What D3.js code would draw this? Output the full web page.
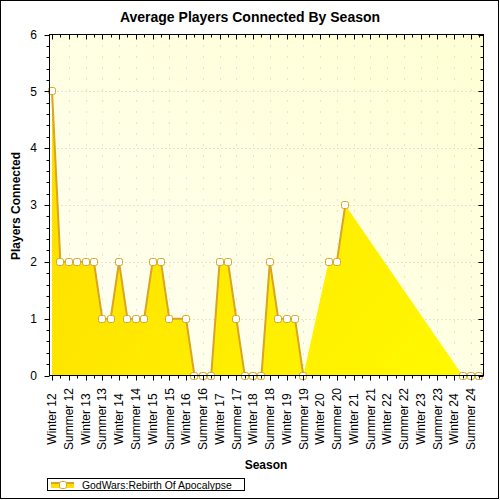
<!DOCTYPE html>
<html>
<head>
<meta charset="utf-8">
<script src="https://cdn.jsdelivr.net/npm/d3@7"></script>
<style>
  html, body { margin: 0; padding: 0; background: #fff; }
  svg { display: block; }
  text { font-family: "Liberation Sans", Arial, sans-serif; fill: #000; }
</style>
</head>
<body>
<svg id="chart" width="500" height="500"></svg>
<script>
// ---- data ----
const title = "Average Players Connected By Season";
const xTitle = "Season";
const yTitle = "Players Connected";
const seriesName = "GodWars:Rebirth Of Apocalypse";
// season tick labels (one every two quarter steps)
const seasonLabels = ["Winter 12","Summer 12","Winter 13","Summer 13","Winter 14","Summer 14",
  "Winter 15","Summer 15","Winter 16","Summer 16","Winter 17","Summer 17","Winter 18","Summer 18",
  "Winter 19","Summer 19","Winter 20","Summer 20","Winter 21","Summer 21","Winter 22","Summer 22",
  "Winter 23","Summer 23","Winter 24","Summer 24"];
// sample position in quarter steps from Winter 12
const periods = [0,1,2,3,4,5,6,7,8,9,10,11,12,13,14,16,17,18,19,20,21,22,23,24,25,26,27,28,29,30,31,32,33,34,35,
  36,37,38,39,40,41,42,43,44,45,46,47,48,49,50,51];
const players = [5,2,2,2,2,2,1,1,2,1,1,1,2,2,1,1,0,0,0,2,2,1,0,0,0,2,1,1,1,0,null,null,2,2,3,
  null,null,null,null,null,null,null,null,null,null,null,null,null,0,0,0];
const yTicks = [0,1,2,3,4,5,6];

const data = periods.map((p, i) => ({p, v: players[i]}));
const defined = data.filter(d => d.v != null);

const svg = d3.select("#chart");
const L = 49.5, R = 483.5, T = 34.5, B = 375.5;
const x = d3.scaleLinear().domain([-0.3, 51.5]).range([L, R]);
const y = d3.scaleLinear().domain([0, 6]).range([B, T]);

const defs = svg.append("defs");
const bg = defs.append("linearGradient").attr("id", "bg")
  .attr("x1", 0).attr("y1", 1).attr("x2", 1).attr("y2", 0);
bg.append("stop").attr("offset", 0).attr("stop-color", "#FFFFF2");
bg.append("stop").attr("offset", 1).attr("stop-color", "#FFFFD4");
const ag = defs.append("linearGradient").attr("id", "ag")
  .attr("gradientUnits", "userSpaceOnUse")
  .attr("x1", L).attr("y1", T).attr("x2", R).attr("y2", B);
ag.append("stop").attr("offset", 0).attr("stop-color", "#FFDA00");
ag.append("stop").attr("offset", 1).attr("stop-color", "#FFFA00");

// outer border
svg.append("rect").attr("x", 0.5).attr("y", 0.5).attr("width", 498).attr("height", 498)
  .attr("fill", "#fff").attr("stroke", "#000");

// plot background
svg.append("rect").attr("x", L).attr("y", T).attr("width", R - L).attr("height", B - T)
  .attr("fill", "url(#bg)");

// gridlines
const majorX = d3.range(0, 51, 2);
const minorX = d3.range(1, 52, 2);
svg.append("g").selectAll("line").data(yTicks.slice(1, -1)).join("line")
  .attr("x1", L).attr("x2", R)
  .attr("y1", d => Math.round(y(d)) + 0.5).attr("y2", d => Math.round(y(d)) + 0.5)
  .attr("stroke", "#c8c8c8").attr("stroke-dasharray", "1,3");
svg.append("g").selectAll("line").data(majorX.slice(1)).join("line")
  .attr("x1", d => Math.round(x(d)) + 0.5).attr("x2", d => Math.round(x(d)) + 0.5)
  .attr("y1", T).attr("y2", B)
  .attr("stroke", "#c8c8c8").attr("stroke-dasharray", "1,10");

// area
svg.append("path").datum(defined)
  .attr("d", d3.area().x(d => x(d.p)).y0(y(0)).y1(d => y(d.v)))
  .attr("fill", "url(#ag)");

// line
svg.append("path").datum(data)
  .attr("d", d3.line().defined(d => d.v != null).x(d => x(d.p)).y(d => y(d.v)))
  .attr("fill", "none").attr("stroke", "#DAA520").attr("stroke-width", 2);

// markers
svg.append("g").selectAll("rect").data(defined).join("rect")
  .attr("x", d => Math.round(x(d.p)) - 3.5).attr("y", d => Math.round(y(d.v)) - 3.5)
  .attr("width", 7).attr("height", 7).attr("rx", 2)
  .attr("fill", "#fff").attr("stroke", "#DAA520").attr("stroke-width", 1);

// axes frame
const axisG = svg.append("g").attr("stroke", "#000").attr("fill", "none");
axisG.append("rect").attr("x", L).attr("y", T).attr("width", R - L).attr("height", B - T);

// y ticks
const yMinor = d3.range(0, 6.01, 0.2);
yMinor.forEach(v => {
  const isMajor = Math.abs(v - Math.round(v)) < 1e-6;
  const yy = Math.round(y(v)) + 0.5;
  axisG.append("line").attr("x1", L - (isMajor ? 5 : 3)).attr("x2", L).attr("y1", yy).attr("y2", yy);
  axisG.append("line").attr("x1", R - (isMajor ? 5 : 3)).attr("x2", R).attr("y1", yy).attr("y2", yy);
});
// x ticks
majorX.forEach(p => {
  const xx = Math.round(x(p)) + 0.5;
  axisG.append("line").attr("x1", xx).attr("x2", xx).attr("y1", B).attr("y2", B + 5);
  axisG.append("line").attr("x1", xx).attr("x2", xx).attr("y1", T).attr("y2", T + 5);
});
minorX.forEach(p => {
  const xx = Math.round(x(p)) + 0.5;
  axisG.append("line").attr("x1", xx).attr("x2", xx).attr("y1", B).attr("y2", B + 3);
  axisG.append("line").attr("x1", xx).attr("x2", xx).attr("y1", T).attr("y2", T + 3);
});

// y tick labels
svg.append("g").selectAll("text").data(yTicks).join("text")
  .attr("x", 37).attr("y", d => y(d)).attr("dy", "0.35em")
  .attr("text-anchor", "end").style("font-size", "12px").text(d => d);

// x tick labels
svg.append("g").selectAll("text").data(seasonLabels).join("text")
  .attr("transform", (d, i) => `translate(${x(i * 2)},419) rotate(-90)`)
  .attr("dy", "0.35em").attr("text-anchor", "middle")
  .style("font-size", "12px").text(d => d);

// titles
svg.append("text").attr("x", 250).attr("y", 22).attr("text-anchor", "middle")
  .style("font-size", "14px").style("font-weight", "bold").text(title);
svg.append("text").attr("x", 266).attr("y", 469).attr("text-anchor", "middle")
  .style("font-size", "12px").style("font-weight", "bold").text(xTitle);
svg.append("text").attr("transform", "translate(20,206) rotate(-90)").attr("text-anchor", "middle")
  .style("font-size", "12px").style("font-weight", "bold").text(yTitle);

// legend
const lg = svg.append("g");
lg.append("rect").attr("x", 47.5).attr("y", 478.5).attr("width", 197).attr("height", 12)
  .attr("fill", "#fff").attr("stroke", "#000");
lg.append("rect").attr("x", 51).attr("y", 482).attr("width", 23).attr("height", 6).attr("fill", "#FFE000");
lg.append("line").attr("x1", 51).attr("x2", 74).attr("y1", 483).attr("y2", 483)
  .attr("stroke", "#DAA520").attr("stroke-width", 2);
lg.append("rect").attr("x", 59.5).attr("y", 481.5).attr("width", 7).attr("height", 7).attr("rx", 2)
  .attr("fill", "#fff").attr("stroke", "#DAA520");
lg.append("text").attr("x", 82).attr("y", 485).attr("dy", "0.35em")
  .style("font-size", "10.4px").text(seriesName);
</script>
</body>
</html>
